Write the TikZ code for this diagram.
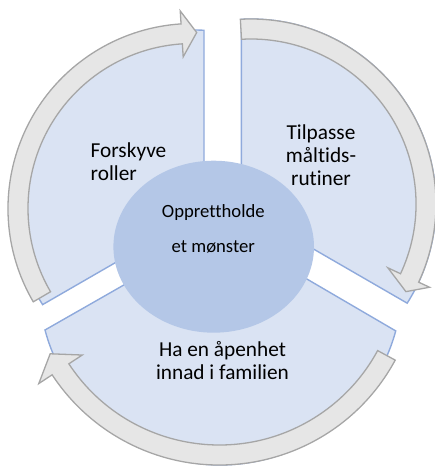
\documentclass[tikz,border=0pt]{standalone}
\usepackage{fontspec}
\setmainfont{Carlito}[Ligatures=NoCommon]
\usetikzlibrary{shapes.geometric}
\definecolor{segfill}{HTML}{DAE3F3}
\definecolor{segline}{HTML}{8FAADC}
\definecolor{hubfill}{HTML}{B4C7E7}
\definecolor{arrowfill}{HTML}{E6E6E6}
\definecolor{arrowline}{HTML}{A6A6A6}
\begin{document}
\begin{tikzpicture}[x=1pt,y=1pt,
  segment/.style={fill=segfill,draw=segline,line width=1.4pt,line join=miter},
  cyclearrow/.style={fill=arrowfill,draw=arrowline,line width=1.3pt,line join=miter},
  hub/.style={ellipse,fill=hubfill,draw=none,inner sep=0pt,minimum width=200.6pt,minimum height=172pt},
  seglabel/.style={font=\fontsize{21.3}{23.3}\selectfont,inner sep=0pt,text=black},
  hublabel/.style={font=\fontsize{18.67}{35}\selectfont,inner sep=0pt,align=center,text=black}]
\useasboundingbox (0,0) rectangle (434,466);
% segments
\draw[segment] (204,254.5) -- (204,435.7) arc[start angle=86.47,end angle=212.6,radius=178.5pt] -- cycle;
\draw[segment] (241.3,258.7) -- (241.3,446.7) arc[start angle=93,end angle=-32.4,radius=185pt] -- cycle;
\draw[segment] (221.6,236.8) -- (45,136) arc[start angle=194.9,end angle=344.8,radius=181.6pt] -- cycle;
% circular arrows
\begin{scope}[shift={(193,257.5)}]
\draw[cyclearrow] (210.3:185pt) arc[start angle=210.3,end angle=93.7,radius=185pt]
  -- (93.7:198pt) -- (88.8:176pt) -- (93.7:152pt) -- (93.7:165pt)
  arc[start angle=93.7,end angle=210.3,radius=165pt] -- cycle;
\end{scope}
\begin{scope}[shift={(251,262)}]
\draw[cyclearrow] (93.3:185pt) arc[start angle=93.3,end angle=-25,radius=185pt]
  -- (-25:197pt) -- (-29.5:178pt) -- (-25:151pt) -- (-25:165pt)
  arc[start angle=-25,end angle=93.3,radius=165pt] -- cycle;
\end{scope}
\begin{scope}[shift={(219.3,201)}]
\draw[cyclearrow] (-28.4:200pt) arc[start angle=-28.4,end angle=-146.7,radius=200pt]
  -- (-146.7:216pt) -- (-152.3:191pt) -- (-146.7:164pt) -- (-146.7:180pt)
  arc[start angle=-146.7,end angle=-28.4,radius=180pt] -- cycle;
\end{scope}
% hub
\node[hub] (hub) at (213.7,219.3) {};
% labels (base anchor = baseline of last line)
\node[seglabel,align=left,anchor=base west] (roles) at (90.5,285.5) {Forskyve\\roller};
\node[seglabel,align=center,anchor=base] (meals) at (321,280.3) {Tilpasse\\måltids-\\rutiner};
\node[seglabel,align=center,anchor=base] (open) at (222.5,86) {Ha en åpenhet\\innad i familien};
\node[hublabel,anchor=base] (pattern) at (213.3,213.7) {Opprettholde\\et mønster};
\end{tikzpicture}
\end{document}
